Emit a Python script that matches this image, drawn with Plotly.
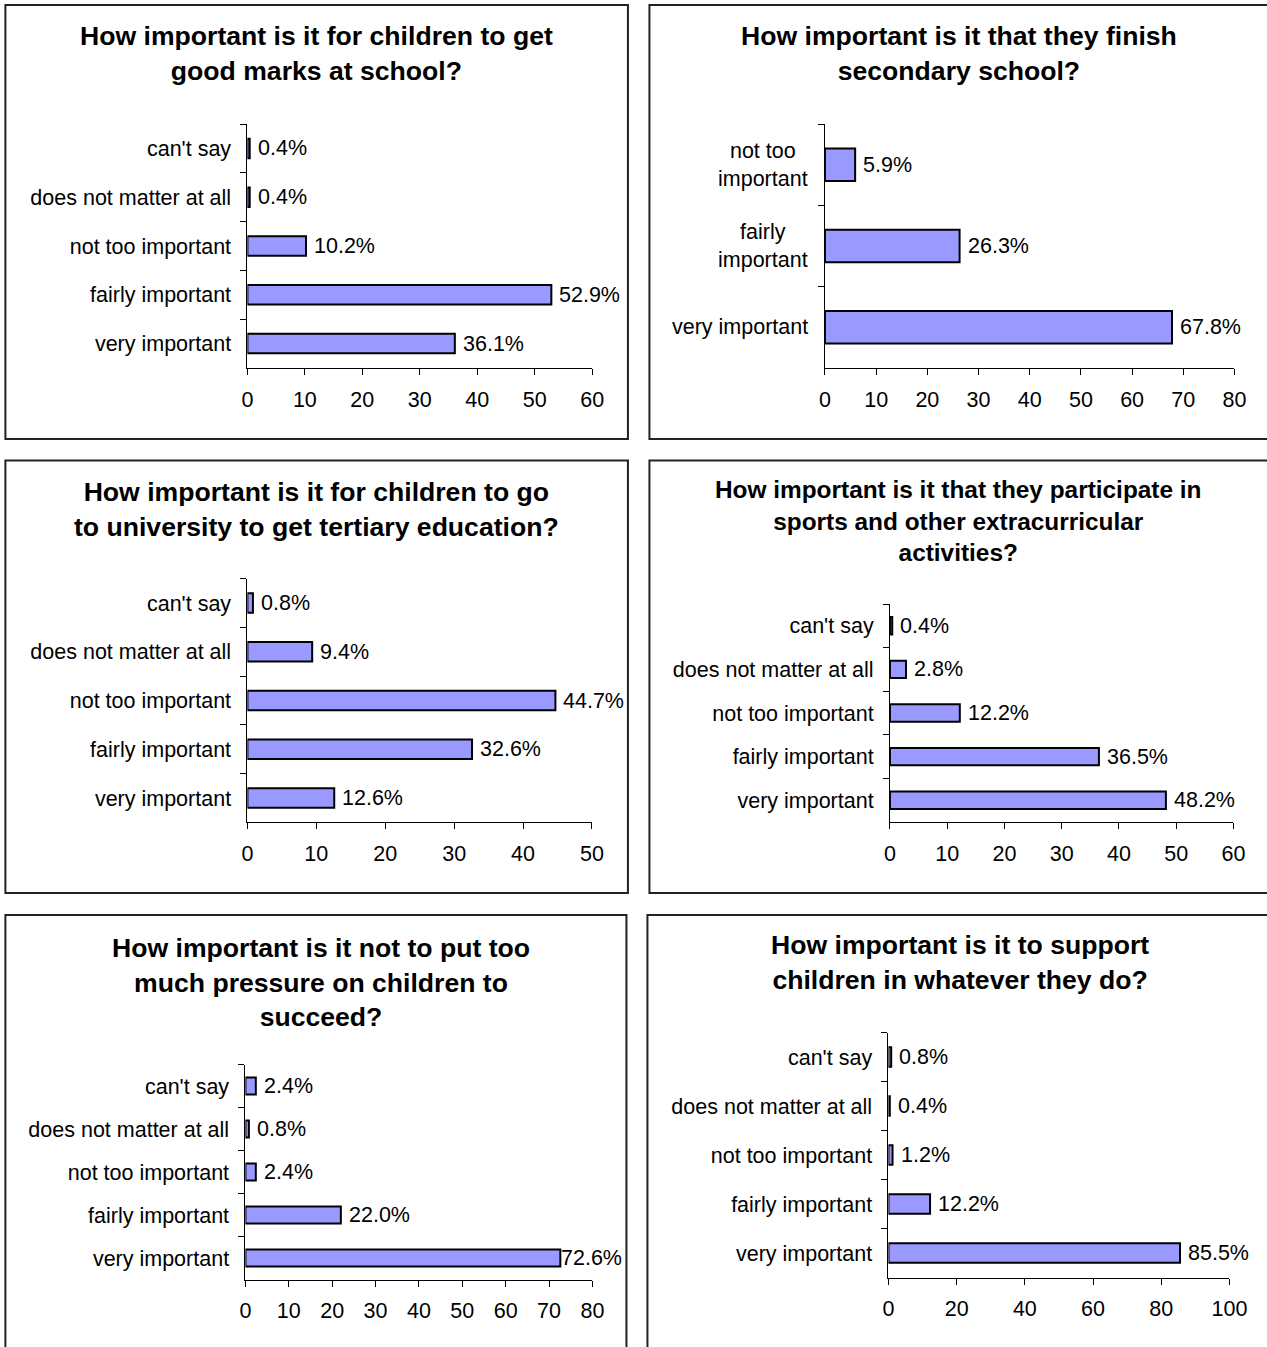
import plotly.graph_objects as go

W, H = 1267, 1347

# ---------------- data ----------------
cats5 = ["can't say", "does not matter at all", "not too important",
         "fairly important", "very important"]
cats3 = ["not too<br>important", "fairly<br>important", "very important"]

titles = [
    "How important is it for children to get<br>good marks at school?",
    "How important is it that they finish<br>secondary school?",
    "How important is it for children to go<br>to university to get tertiary education?",
    "How important is it that they participate in<br>sports and other extracurricular<br>activities?",
    "How important is it not to put too<br>much pressure on children to<br>succeed?",
    "How important is it to support<br>children in whatever they do?",
]

vals_marks = [0.4, 0.4, 10.2, 52.9, 36.1]
vals_secondary = [5.9, 26.3, 67.8]
vals_university = [0.8, 9.4, 44.7, 32.6, 12.6]
vals_sports = [0.4, 2.8, 12.2, 36.5, 48.2]
vals_pressure = [2.4, 0.8, 2.4, 22.0, 72.6]
vals_support = [0.8, 0.4, 1.2, 12.2, 85.5]

xmax = [60, 80, 50, 60, 80, 100]
xdtick = [10, 10, 10, 10, 10, 20]

# ---------------- layout geometry (pixels) ----------------
panels = [
    dict(cats=cats5, vals=vals_marks, plot=(247, 591.7, 124, 368), box=(5, 627.5, 5, 439),
         title=(316.5, 54, 26.6)),
    dict(cats=cats3, vals=vals_secondary, plot=(824.5, 1234, 124, 368), box=(649, 1272, 5, 439),
         title=(959, 54, 26.6)),
    dict(cats=cats5, vals=vals_university, plot=(247, 591.5, 578.6, 822.4), box=(5, 627.5, 460.5, 893),
         title=(316.5, 509, 26.6)),
    dict(cats=cats5, vals=vals_sports, plot=(889.5, 1233, 604, 822), box=(649, 1272, 460.5, 893),
         title=(958.5, 521.5, 24.4)),
    dict(cats=cats5, vals=vals_pressure, plot=(245, 592, 1064.5, 1279.5), box=(5, 626, 915, 1352),
         title=(321, 982.5, 26.6)),
    dict(cats=cats5, vals=vals_support, plot=(888, 1229, 1032.5, 1277.5), box=(647, 1272, 915, 1352),
         title=(960, 963, 26.6)),
]

FONT = "Liberation Sans, Arial, sans-serif"
FS = 21.5

# the captured page is compressed horizontally a little; compensate
SX, OX = 0.981, 5.6

def px_x(p):
    return (p - OX) / SX / W

def px_y(p):
    return 1 - p / H

fig = go.Figure()
annotations = []
shapes = []

for i, p in enumerate(panels):
    n = i + 1
    xa = "x" if n == 1 else f"x{n}"
    ya = "y" if n == 1 else f"y{n}"
    xk = "xaxis" if n == 1 else f"xaxis{n}"
    yk = "yaxis" if n == 1 else f"yaxis{n}"
    x0, x1, y0, y1 = p["plot"]
    cats = p["cats"]

    fig.add_trace(go.Bar(
        x=p["vals"], y=cats, orientation="h", width=0.4,
        marker=dict(color="#9999FF", line=dict(color="black", width=2)),
        xaxis=xa, yaxis=ya, showlegend=False, hoverinfo="skip",
    ))

    fig.layout[xk] = dict(
        domain=[px_x(x0), px_x(x1)], anchor=ya, range=[0, xmax[i]],
        dtick=xdtick[i], tick0=0, showgrid=False, zeroline=False,
        showline=True, linecolor="black", linewidth=1,
        ticks="outside", ticklen=6, tickcolor="black", tickwidth=1,
        tickfont=dict(family=FONT, size=FS, color="black"),
        ticklabelstandoff=6, fixedrange=True,
    )
    fig.layout[yk] = dict(
        domain=[px_y(y1), px_y(y0)], anchor=xa, type="category",
        categoryorder="array", categoryarray=cats,
        range=[len(cats) - 0.5, -0.5],
        showgrid=False, zeroline=False,
        showline=True, linecolor="black", linewidth=1,
        ticks="outside", ticklen=6, tickcolor="black", tickwidth=1,
        tickson="boundaries",
        tickfont=dict(family=FONT, size=FS, color="black"),
        ticklabelstandoff=11, showticklabels=(len(cats) != 3), fixedrange=True,
    )

    if len(cats) == 3:
        for c in cats:
            annotations.append(dict(
                xref=f"{xa} domain", yref=ya, x=0, y=c, xanchor="right", yanchor="middle",
                xshift=-15, text=c, showarrow=False, align="center",
                font=dict(family=FONT, size=FS, color="black"),
            ))

    # value labels
    for c, v in zip(cats, p["vals"]):
        shift = 6
        if v / xmax[i] > 0.9:
            shift = -1
        annotations.append(dict(
            xref=xa, yref=ya, x=v, y=c, xanchor="left", yanchor="middle",
            xshift=shift, text=f"{v:.1f}%", showarrow=False,
            font=dict(family=FONT, size=FS, color="black"),
        ))

    # title
    tx, ty, tfs = p["title"]
    annotations.append(dict(
        xref="paper", yref="paper", x=px_x(tx), y=px_y(ty), xanchor="center", yanchor="middle",
        text=f"<b>{titles[i]}</b>", showarrow=False, align="center",
        font=dict(family=FONT, size=tfs, color="black"),
    ))

    # panel frame
    bx0, bx1, by0, by1 = p["box"]
    shapes.append(dict(
        type="rect", xref="paper", yref="paper",
        x0=px_x(bx0), x1=px_x(bx1), y0=px_y(by1), y1=px_y(by0),
        line=dict(color="#222222", width=2), fillcolor="rgba(0,0,0,0)", layer="below",
    ))

fig.update_layout(
    width=W, height=H, margin=dict(l=0, r=0, t=0, b=0),
    paper_bgcolor="white", plot_bgcolor="white",
    annotations=annotations, shapes=shapes, bargap=0.6,
    font=dict(family=FONT, size=FS, color="black"),
)

fig.write_html(
    "out.html",
    config={"displayModeBar": False},
    post_script="document.body.style.margin='0';document.body.style.overflow='hidden';",
)
